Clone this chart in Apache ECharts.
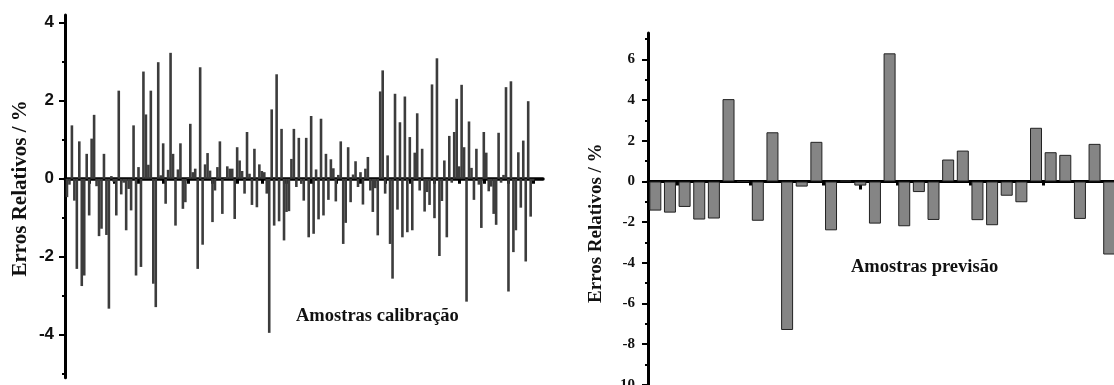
<!DOCTYPE html>
<html>
<head>
<meta charset="utf-8">
<script src="https://cdn.jsdelivr.net/npm/echarts@6/dist/echarts.min.js"></script>
<style>
  html, body { margin: 0; padding: 0; background: #fff; }
  #main { width: 1114px; height: 385px; }
</style>
</head>
<body>
<div id="main"></div>
<script>
// amostras de calibracao (erro relativo, %)
var calibErros = [
    -0.47, -0.15, 1.37, -0.56, -2.31, 0.96, -2.75, -2.48, 0.64, -0.94,
    1.03, 1.64, -0.19, -1.47, -1.28, 0.64, -1.44, -3.33, 0.07, -0.08,
    -0.94, 2.26, -0.4, -0.1, -1.32,
    -0.26, -0.81, 1.37, -2.48, 0.3, -2.26, 2.75, 1.65, 0.36, 2.26,
    -2.69, -3.29, 2.99, 0.09, 0.91, -0.64, 0.23, 3.23, 0.64, -1.2,
    0.24, 0.91, -0.77, -0.6, 0.04, 1.41, 0.17, 0.26, -2.31,
    2.86, -1.69, 0.37, 0.66, 0.21, -1.11, -0.3, 0.3, 0.96, -0.9,
    0.04, 0.32, 0.26, 0.26, -1.03, 0.81, 0.47, 0.2, -0.38, 1.2,
    0.13, -0.67, 0.77, -0.73, 0.37, 0.2, 0.17,
    -0.38, -3.95, 1.78, -1.2, 2.68, -1.09, 1.28, -1.58, -0.85, -0.83,
    0.51, 1.28, -0.21, 1.05, -0.13, -0.56, 1.05, -1.5, 1.61, -1.41,
    0.24, -1.04, 1.54, -0.94, 0.64, -0.54, 0.5,
    0.27, -0.58, 0.1, 0.96, -1.67, -1.13, 0.81, -0.6, 0.11, 0.45,
    -0.21, 0.17, -0.66, 0.26, 0.56, -0.3, -0.85, -0.24, -1.45, 2.24,
    2.78, -0.38, 0.6, -1.67, -2.56, 2.18, -0.79, 1.45,
    -1.5, 2.11, -1.37, 1.07, -1.32, 0.67, 1.68, -0.3, 0.77, -0.84,
    -0.34, -0.67, 2.42, -1.01, 3.09, -1.98, -0.57, 0.47, -1.5, 1.1,
    -0.1, 1.2, 2.05, 0.32, 2.41, 0.81,
    -3.15, 1.47, 0.28, -0.54, 0.77, -0.15, -1.26, 1.2, 0.67, -0.32,
    -0.2, -0.9, -1.18, 1.18, -0.1, 0.1, 2.35, -2.89, 2.5, -1.88,
    -1.32, 0.68, -0.74, 0.98, -2.12, 1.99, -0.97, -0.05
];

// amostras de previsao (erro relativo, %)
var previsaoErros = [
    -1.43, -1.53, -1.25, -1.87, -1.82, 4.05, 0.0, -1.93, 2.42, -7.3,
    -0.25, 1.95, -2.4, 0.05, -0.2, -2.07, 6.3, -2.2, -0.52, -1.89,
    1.08, 1.52, -1.9, -2.15, -0.7, -1.02, 2.64, 1.44, 1.31, -1.84,
    1.85, -3.59
];

// ticks
var calibYTicks = [-4, -2, 0, 2, 4];
var calibYMinor = [-5, -3, -1, 1, 3];
var calibXTicks = [10, 20, 30, 40, 50, 60, 70, 80, 90, 100, 110, 120, 130, 140, 150, 160, 170, 180, 190];
var prevYTicks = [-10, -8, -6, -4, -2, 0, 2, 4, 6];
var prevYMinor = [-11, -9, -7, -5, -3, -1, 1, 3, 5, 7];
var prevXTicks = [5, 10, 15, 20, 25, 30];
var prevXMinor = [2.5, 7.5, 12.5, 17.5, 22.5, 27.5, 32.5];

var yName = 'Erros Relativos / %';
var calibTitle = 'Amostras calibração';
var prevTitle = 'Amostras previsão';

function toPoints(arr) {
    var pts = [];
    for (var i = 0; i < arr.length; i++) {
        pts.push([i + 1, arr[i]]);
    }
    return pts;
}

var serif = '"Liberation Serif", "Times New Roman", serif';
var sans = '"Liberation Sans", Arial, sans-serif';
var blk = '#000';

var myChart = echarts.init(document.getElementById('main'));

var option = {
    backgroundColor: '#fff',
    animation: false,
    title: [
        {
            text: calibTitle, left: 296, top: 307, padding: 0,
            textStyle: { fontFamily: serif, fontWeight: 'bold', fontSize: 18.5, color: '#111' }
        },
        {
            text: prevTitle, left: 851, top: 258, padding: 0,
            textStyle: { fontFamily: serif, fontWeight: 'bold', fontSize: 18.5, color: '#111' }
        }
    ],
    grid: [
        { left: 65, right: 571, top: 15, bottom: 7.3, outerBoundsMode: 'none' },
        { left: 648, right: -4, top: 33, bottom: -28.4, outerBoundsMode: 'none' }
    ],
    xAxis: [
        {
            gridIndex: 0, type: 'value', min: 0.2, max: 194,
            axisLine: { onZero: true, lineStyle: { color: blk, width: 3.5 } },
            axisTick: { show: true, customValues: calibXTicks, length: 5, lineStyle: { color: blk, width: 3 } },
            axisLabel: { show: false },
            splitLine: { show: false }
        },
        {
            gridIndex: 1, type: 'value', min: 0.5, max: 32.6, position: 'bottom',
            axisLine: { onZero: true, onZeroAxisIndex: 2, lineStyle: { color: blk, width: 3 } },
            axisTick: { show: true, customValues: prevXTicks, length: 8, lineStyle: { color: blk, width: 3 } },
            axisLabel: { show: false },
            splitLine: { show: false }
        },
        {
            gridIndex: 1, type: 'value', min: 0.5, max: 32.6, position: 'bottom',
            axisLine: { show: false, onZero: true, onZeroAxisIndex: 2 },
            axisTick: { show: true, customValues: prevXMinor, length: 4, lineStyle: { color: blk, width: 3 } },
            axisLabel: { show: false },
            splitLine: { show: false }
        }
    ],
    yAxis: [
        {
            gridIndex: 0, type: 'value', min: -5.1, max: 4.2, position: 'left',
            name: yName, nameLocation: 'middle', nameGap: 34, nameRotate: 90,
            nameTextStyle: { fontFamily: serif, fontWeight: 'bold', fontSize: 21, color: '#111', padding: [0, 0, 0, 16] },
            axisLine: { show: true, lineStyle: { color: blk, width: 3 } },
            axisTick: { show: true, customValues: calibYTicks, length: 6, lineStyle: { color: blk, width: 2 } },
            axisLabel: { customValues: calibYTicks, margin: 11, fontFamily: sans, fontWeight: 'bold', fontSize: 17, color: '#111' },
            splitLine: { show: false }
        },
        {
            gridIndex: 0, type: 'value', min: -5.1, max: 4.2, position: 'left',
            axisLine: { show: false },
            axisTick: { show: true, customValues: calibYMinor, length: 3, lineStyle: { color: blk, width: 2 } },
            axisLabel: { show: false },
            splitLine: { show: false }
        },
        {
            gridIndex: 1, type: 'value', min: -11.4, max: 7.3, position: 'left',
            name: yName, nameLocation: 'middle', nameGap: 42, nameRotate: 90,
            nameTextStyle: { fontFamily: serif, fontWeight: 'bold', fontSize: 19, color: '#111' },
            axisLine: { show: true, lineStyle: { color: blk, width: 3 } },
            axisTick: { show: true, customValues: prevYTicks, length: 6, lineStyle: { color: blk, width: 2 } },
            axisLabel: { customValues: prevYTicks, margin: 13, fontFamily: serif, fontWeight: 'bold', fontSize: 15, color: '#111' },
            splitLine: { show: false }
        },
        {
            gridIndex: 1, type: 'value', min: -11.4, max: 7.3, position: 'left',
            axisLine: { show: false },
            axisTick: { show: true, customValues: prevYMinor, length: 3, lineStyle: { color: blk, width: 2 } },
            axisLabel: { show: false },
            splitLine: { show: false }
        }
    ],
    series: [
        {
            name: calibTitle, type: 'bar', xAxisIndex: 0, yAxisIndex: 0,
            data: toPoints(calibErros), barWidth: 2.6,
            itemStyle: { color: '#3c3c3c' }
        },
        {
            name: prevTitle, type: 'bar', xAxisIndex: 1, yAxisIndex: 2,
            data: toPoints(previsaoErros), barWidth: 12,
            itemStyle: { color: '#858585', borderColor: '#222', borderWidth: 1 }
        }
    ]
};

myChart.setOption(option);
</script>
</body>
</html>
